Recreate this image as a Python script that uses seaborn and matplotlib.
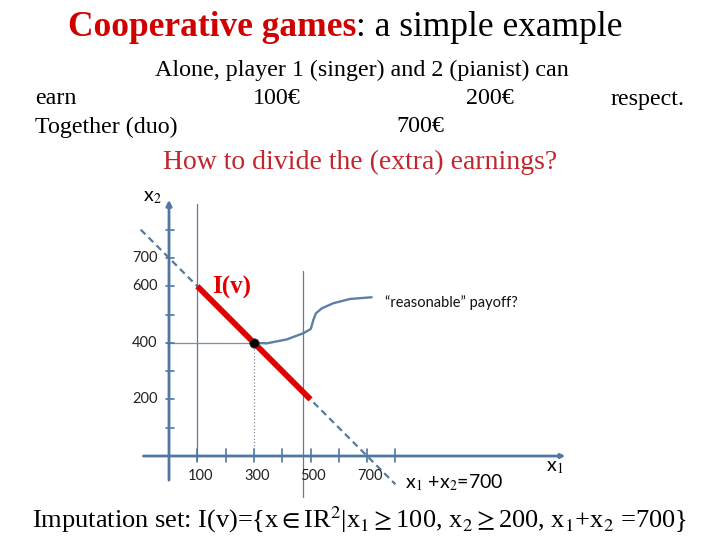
import numpy as np
import pandas as pd
import matplotlib
matplotlib.use("Agg")
import matplotlib.pyplot as plt
import seaborn as sns

# chart data (euro payoffs)
tick_values = [100, 200, 300, 400, 500, 600, 700, 800]
x_tick_labels = {100: "100", 300: "300", 500: "500", 700: "700"}
y_tick_labels = {200: "200", 400: "400", 600: "600", 700: "700"}

alone_x1 = 100
alone_x2 = 200
together = 700
reasonable_point = (300, 400)
x1_bound_drawn = 475  # the slide draws the x1<=500 guide slightly left

budget_line_x = [-100, 800]
budget_line_y = [800, -100]
imputation_x = [100, 500]
imputation_y = [600, 200]

callout_x = [300, 345, 416, 475, 501, 510, 519, 540, 581, 640, 716]
callout_y = [400, 398, 412, 434, 449, 481, 504, 522, 540, 555, 561]

AXIS_BLUE = "#4F77A3"
GUIDE_BLUE = "#5E7B98"
RED = "#E30000"
SERIF = ["Liberation Serif", "DejaVu Serif"]
SANS = ["Lato", "DejaVu Sans"]

sns.set_theme(style="white")
plt.rcParams["font.family"] = SERIF
plt.rcParams["mathtext.fontset"] = "stix"
plt.rcParams["text.color"] = "black"

fig = plt.figure(figsize=(7.2, 5.4), dpi=100)
# data origin sits at pixel (169, 456), ~28.3 px per 100
ax = fig.add_axes([0.1561, 0.0769, 0.6486, 0.5765])
ax.set_xlim(-200, 1450)
ax.set_ylim(-150, 950)
ax.axis("off")

# thin vertical guides
ax.plot([alone_x1, alone_x1], [-15, 890], color=GUIDE_BLUE, lw=0.9)
ax.plot([x1_bound_drawn, x1_bound_drawn], [-215, 655], color=GUIDE_BLUE, lw=0.9)
ax.plot([-10, reasonable_point[0]], [reasonable_point[1]] * 2, color="#7F8FA0", lw=0.9)
ax.plot([reasonable_point[0]] * 2, [0, reasonable_point[1]], color="#7F8FA0", lw=0.9, ls=":")

# axes with arrows
ax.annotate("", xy=(0, 915), xytext=(0, -95),
            arrowprops=dict(arrowstyle="-|>", color=AXIS_BLUE, lw=2.0, mutation_scale=8))
ax.annotate("", xy=(1410, 0), xytext=(-100, 0),
            arrowprops=dict(arrowstyle="-|>", color=AXIS_BLUE, lw=2.0, mutation_scale=6))
for t in tick_values:
    ax.plot([-12, 18], [t, t], color=AXIS_BLUE, lw=1.2)
    ax.plot([t, t], [-20, 25], color=AXIS_BLUE, lw=1.2)

for v, lab in x_tick_labels.items():
    ax.text(v + 10, -70, lab, ha="center", va="center", fontsize=10.5,
            family=SANS, color="#222222")
for v, lab in y_tick_labels.items():
    ax.text(-40, v, lab, ha="right", va="center", fontsize=10.5,
            family=SANS, color="#222222")

# budget line x1 + x2 = 700 (dashed)
budget = pd.DataFrame({"x1": budget_line_x, "x2": budget_line_y})
sns.lineplot(data=budget, x="x1", y="x2", ax=ax, color="#5C7896", lw=1.6,
             dashes=False, linestyle=(0, (3, 2)), sort=False)

# imputation set I(v)
imp = pd.DataFrame({"x1": imputation_x, "x2": imputation_y})
sns.lineplot(data=imp, x="x1", y="x2", ax=ax, color=RED, lw=4.2, sort=False,
             solid_capstyle="butt")

# callout curve to the reasonable payoff
callout = pd.DataFrame({"x1": callout_x, "x2": callout_y})
sns.lineplot(data=callout, x="x1", y="x2", ax=ax, color="#5B7FA6", lw=1.7, sort=False)

pt = pd.DataFrame({"x1": [reasonable_point[0]], "x2": [reasonable_point[1]]})
sns.scatterplot(data=pt, x="x1", y="x2", ax=ax, color="black", s=45, zorder=5,
                edgecolor="#333333")

ax.text(222, 597, "I(v)", color=RED, fontsize=18, fontweight="bold",
        ha="center", va="center", family=SERIF)
ax.text(763, 544, "\u201creasonable\u201d payoff?", fontsize=10.5, family=SANS,
        ha="left", va="center", color="#111111")
ax.text(-60, 912, "x$_2$", fontsize=14, family=SANS, ha="center", va="center")
ax.text(1364, -42, "x$_1$", fontsize=14, family=SANS, ha="center", va="center")
ax.text(834, -95, "x$_1$ +x$_2$=700", fontsize=14, family=SANS,
        ha="left", va="center")
ax.set_xlabel("")
ax.set_ylabel("")


def ftext(px, py, s, **kw):
    return fig.text(px / 720, 1 - py / 540, s, family=SERIF, **kw)


# slide header: red bold part, then the rest right after it
head = ftext(68, 28, "Cooperative games", color="#D00000", fontsize=25.5,
             fontweight="bold", ha="left", va="center")
renderer = fig.canvas.get_renderer()
head_end = head.get_window_extent(renderer).x1
ftext(head_end, 28, ": a simple example", fontsize=25.5, ha="left", va="center")

ftext(362, 70, "Alone, player 1 (singer) and 2 (pianist) can", fontsize=17.3,
      ha="center", va="center")
ftext(35, 99, "earn", fontsize=17.3, ha="left", va="center")
ftext(277, 99, f"{alone_x1}\u20ac", fontsize=17.3, ha="center", va="center")
ftext(490, 99, f"{alone_x2}\u20ac", fontsize=17.3, ha="center", va="center")
ftext(685, 99, "respect.", fontsize=17.3, ha="right", va="center")
ftext(35, 127, "Together (duo)", fontsize=17.3, ha="left", va="center")
ftext(420, 127, f"{together}\u20ac", fontsize=17.3, ha="center", va="center")
ftext(360, 162, "How to divide the (extra) earnings?", fontsize=20,
      color="#C0262C", ha="center", va="center")

ftext(360, 520,
      "Imputation set: I(v)={x$\\in$IR$^2$|x$_1$$\\geq$100, x$_2$$\\geq$200, x$_1$+x$_2$ =700}",
      fontsize=19, ha="center", va="center")

fig.savefig("out.png", dpi=100)
